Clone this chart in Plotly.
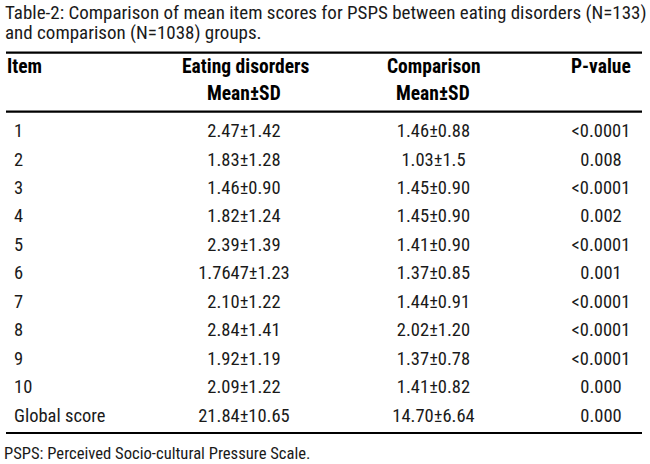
import plotly.graph_objects as go

# table data
items = ["1", "2", "3", "4", "5", "6", "7", "8", "9", "10", "Global score"]
eating = ["2.47±1.42", "1.83±1.28", "1.46±0.90", "1.82±1.24", "2.39±1.39",
          "1.7647±1.23", "2.10±1.22", "2.84±1.41", "1.92±1.19", "2.09±1.22",
          "21.84±10.65"]
comparison = ["1.46±0.88", "1.03±1.5", "1.45±0.90", "1.45±0.90", "1.41±0.90",
              "1.37±0.85", "1.44±0.91", "2.02±1.20", "1.37±0.78", "1.41±0.82",
              "14.70±6.64"]
p_values = ["<0.0001", "0.008", "<0.0001", "0.002", "<0.0001", "0.001",
            "<0.0001", "<0.0001", "<0.0001", "0.000", "0.000"]
headers = ["Item", "Eating disorders", "Comparison", "P-value"]
sub_header = "Mean±SD"

FONT = "Roboto Condensed, DejaVu Sans Condensed, sans-serif"
INK = "#1a1a1a"
SIZE = 18.5

W, H = 650, 464
row0, row_h = 132.5, 28.45
rows = [row0 + i * row_h for i in range(len(items))]

fig = go.Figure()

# body cells
body = dict(family=FONT, size=SIZE, color=INK)
fig.add_trace(go.Scatter(x=[14] * len(items), y=rows, text=items, mode="text",
                         textposition="middle right", textfont=body))
fig.add_trace(go.Scatter(x=[244] * len(items), y=rows, text=eating, mode="text",
                         textposition="middle center", textfont=body))
fig.add_trace(go.Scatter(x=[433.5] * len(items), y=rows, text=comparison, mode="text",
                         textposition="middle center", textfont=body))
fig.add_trace(go.Scatter(x=[601] * len(items), y=rows, text=p_values, mode="text",
                         textposition="middle center", textfont=body))

# header
ann = []
ann.append(dict(x=5, y=66.5, text="<b>" + headers[0] + "</b>", xanchor="left"))
ann.append(dict(x=245, y=66.5, text="<b>" + headers[1] + "</b>", xanchor="center"))
ann.append(dict(x=244, y=93.5, text="<b>" + sub_header + "</b>", xanchor="center"))
ann.append(dict(x=433.5, y=66.5, text="<b>" + headers[2] + "</b>", xanchor="center"))
ann.append(dict(x=433, y=93.5, text="<b>" + sub_header + "</b>", xanchor="center"))
ann.append(dict(x=601, y=66.5, text="<b>" + headers[3] + "</b>", xanchor="center"))
for a in ann:
    a.update(xref="x", yref="y", yanchor="middle", showarrow=False,
             font=dict(family=FONT, size=19.5, color="#000000"))

title_font = dict(family=FONT, size=19, color=INK)
ann.append(dict(x=3, y=12, xref="x", yref="y", xanchor="left", yanchor="middle",
                showarrow=False, font=title_font,
                text="Table-2: Comparison of mean item scores for PSPS between eating disorders (N=133)"))
ann.append(dict(x=3, y=32, xref="x", yref="y", xanchor="left", yanchor="middle",
                showarrow=False, font=title_font,
                text="and comparison (N=1038) groups."))
ann.append(dict(x=2, y=453, xref="x", yref="y", xanchor="left", yanchor="middle",
                showarrow=False, font=dict(family=FONT, size=16.6, color=INK),
                text="PSPS: Perceived Socio-cultural Pressure Scale."))

shapes = []
for yl in [52.7, 111.7, 433]:
    shapes.append(dict(type="line", xref="x", yref="y", x0=6, x1=642, y0=yl, y1=yl,
                       line=dict(color="#000000", width=2.2)))

fig.update_layout(
    width=W, height=H,
    margin=dict(l=0, r=0, t=0, b=0),
    paper_bgcolor="white", plot_bgcolor="white",
    showlegend=False,
    annotations=ann, shapes=shapes,
    xaxis=dict(range=[0, W], visible=False, fixedrange=True),
    yaxis=dict(range=[H, 0], visible=False, fixedrange=True),
)

# drop the default 8px body margin so the figure sits at the window corner
fig.write_html("out.html", config={"displayModeBar": False},
               post_script="document.body.style.margin='0';")
